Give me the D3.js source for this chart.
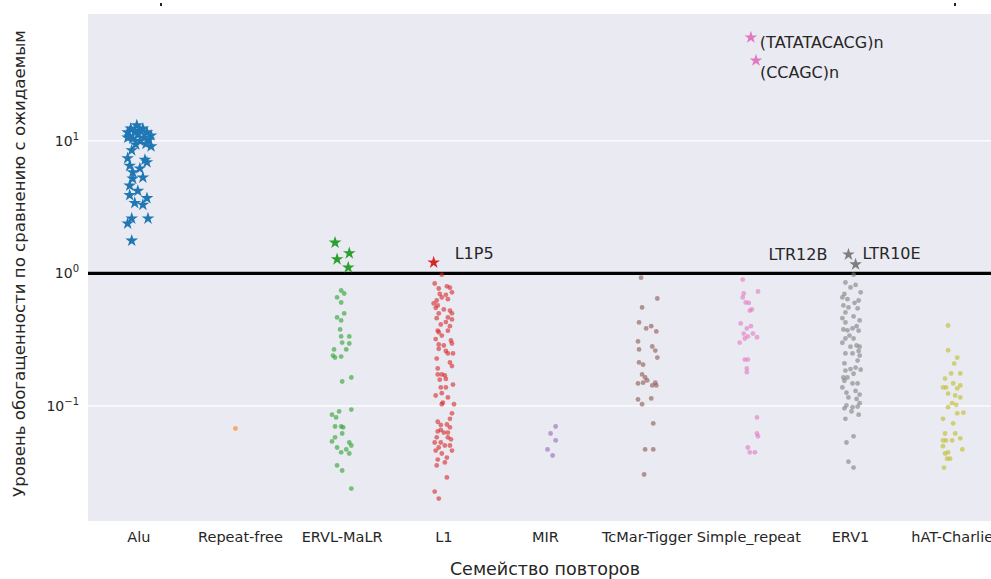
<!DOCTYPE html>
<html>
<head>
<meta charset="utf-8">
<script src="https://cdn.jsdelivr.net/npm/d3@7"></script>
<style>
	body { margin: 0; background: #fff; }
	svg { display: block; font-family: "DejaVu Sans", sans-serif; }
</style>
</head>
<body>
<svg id="chart" width="991" height="579"></svg>
<script>
// categories in plot order
const families = ["Alu", "Repeat-free", "ERVL-MaLR", "L1", "MIR", "TcMar-Tigger", "Simple_repeat", "ERV1", "hAT-Charlie"];
const palette = ["#1f77b4", "#ff7f0e", "#2ca02c", "#d62728", "#9467bd", "#8c564b", "#e377c2", "#7f7f7f", "#bcbd22"];
const yTicks = [0.1, 1, 10];

// each point: [enrichment, jitter within the category band]
const aluStars = [[13.1,-0.02],[12.4,-0.08],[12.4,0.04],[11.6,-0.11],[11.8,-0.04],[12.0,0.01],[11.6,0.08],[11.0,0.12],[10.8,-0.09],[11.2,-0.01],[10.6,0.05],[10.4,-0.06],[10.2,0.10],[10.0,0.01],[10.6,-0.11],[9.5,0.07],[9.4,-0.03],[9.1,0.12],
	[8.5,-0.07],[7.4,-0.11],[6.9,0.08],[7.2,0.06],[6.5,-0.09],[6.2,0.01],[5.8,-0.06],[5.3,0.04],[5.2,-0.06],[4.6,-0.09],[4.2,-0.01],[3.9,-0.09],[3.7,0.08],[3.4,-0.04],[3.3,0.04],[2.6,-0.07],[2.6,0.09],[2.38,-0.11],[1.77,-0.07]];
const repeatFree = [[0.0676,-0.05]];
const ervlStars = [[1.71,-0.07],[1.42,0.07],[1.28,-0.05],[1.11,0.06]];
const ervl = [[0.744,-0.01],[0.706,0.02],[0.659,-0.05],[0.604,-0.01],[0.499,0.02],[0.466,-0.05],[0.442,-0.01],[0.378,-0.02],[0.335,-0.01],[0.335,0.07],[0.301,0],[0.296,0.07],[0.267,-0.08],[0.267,0.04],[0.240,-0.09],[0.232,-0.07],[0.236,-0.01],[0.164,0.09],[0.153,0],
	[0.094,0.09],[0.091,-0.03],[0.086,-0.10],[0.082,-0.06],[0.070,-0.07],[0.070,-0.01],[0.069,0.01],[0.062,0],[0.058,-0.07],[0.054,-0.10],[0.053,0.07],[0.0503,0.09],[0.0486,-0.05],[0.047,0.04],[0.0447,-0.01],[0.0438,0.07],[0.0356,-0.05],[0.0326,0],[0.0238,0.09]];
const l1Stars = [[1.21,-0.10]];
const l1 = [[0.98,-0.02],[0.84,-0.09],[0.77,-0.05],[0.80,0.03],[0.78,0.06],[0.72,0.08],[0.69,0.02],[0.70,-0.04],[0.66,-0.02],[0.625,-0.07],[0.64,0.04],[0.594,-0.10],[0.574,-0.06],[0.55,-0.08],[0.535,0],[0.525,0.06],[0.499,-0.05],[0.50,0.08],[0.466,0.04],[0.46,-0.07],[0.45,0.08],[0.43,0.02],[0.412,-0.03],[0.40,0.06],
	[0.371,-0.06],[0.36,-0.05],[0.37,0.04],[0.34,-0.02],[0.32,-0.08],[0.312,0.07],[0.296,0.08],[0.291,-0.05],[0.286,0],[0.27,-0.05],[0.26,0.02],[0.249,0.04],[0.249,0.09],[0.228,-0.07],[0.213,0.06],[0.20,0.08],[0.192,-0.06],[0.173,-0.06],[0.173,-0.02],[0.17,0.01],[0.16,0.02],[0.158,-0.04],[0.145,0.09],[0.138,-0.03],[0.138,0.02],[0.125,-0.02],[0.12,-0.08],[0.116,0.04],
	[0.106,-0.01],[0.103,-0.02],[0.103,0.10],[0.088,0.08],[0.080,0.06],[0.076,-0.06],[0.0725,0.03],[0.072,-0.03],[0.069,0.06],[0.066,-0.03],[0.0643,-0.06],[0.063,0],[0.063,0.04],[0.058,-0.07],[0.058,0.04],[0.056,0.07],[0.053,-0.03],[0.053,-0.09],[0.0503,0.01],[0.0503,0.06],[0.0486,-0.05],[0.0461,-0.08],[0.0461,0.08],
	[0.0438,-0.02],[0.0408,0.03],[0.0394,-0.06],[0.0375,0.01],[0.0356,-0.07],[0.0289,0.03],[0.0226,-0.09],[0.020,-0.05]];
const mir = [[0.070,0.10],[0.062,0.05],[0.055,0.10],[0.047,0.02],[0.0423,0.07]];
const tcmar = [[0.93,-0.06],[0.647,0.10],[0.554,-0.05],[0.427,-0.08],[0.385,-0.01],[0.40,0.04],[0.365,0.09],[0.307,-0.09],[0.281,0.05],[0.267,-0.08],[0.262,0.08],[0.232,0.10],[0.213,-0.08],[0.205,-0.04],[0.173,-0.05],[0.164,-0.02],[0.156,0],[0.148,-0.09],[0.150,-0.04],[0.150,0.08],[0.143,0.05],[0.143,0.09],
	[0.112,-0.09],[0.103,-0.05],[0.114,0.04],[0.0738,0.06],[0.047,-0.02],[0.047,0.06],[0.0304,-0.03]];
const simpleStars = [[60.4,0.02],[40.5,0.07]];
const simple = [[0.90,-0.06],[0.731,0.09],[0.706,-0.05],[0.659,-0.06],[0.604,-0.03],[0.60,0],[0.535,0.03],[0.525,0.01],[0.42,-0.08],[0.40,0.02],[0.385,-0.02],[0.352,-0.05],[0.352,0.04],[0.335,-0.01],[0.33,0.08],[0.323,-0.04],[0.301,-0.09],[0.224,-0.04],[0.224,-0.01],[0.192,-0.02],[0.18,-0.02],
	[0.082,0.08],[0.062,0.08],[0.059,0.09],[0.0486,-0.01],[0.0447,0.01],[0.0447,0.06]];
const erv1Stars = [[1.39,-0.02],[1.17,0.05]];
const erv1 = [[0.98,0.03],[0.855,-0.05],[0.82,0.05],[0.784,0],[0.72,0.10],[0.70,-0.06],[0.659,-0.08],[0.64,-0.03],[0.625,0.08],[0.60,0.04],[0.574,-0.07],[0.554,-0.02],[0.545,0.07],[0.508,-0.05],[0.474,0.03],[0.46,-0.08],[0.442,0.09],[0.427,-0.05],[0.40,0.06],[0.378,-0.07],[0.372,-0.03],[0.385,0.02],[0.37,0.08],
	[0.34,-0.01],[0.323,-0.05],[0.323,0.03],[0.30,-0.08],[0.286,0.06],[0.28,0.09],[0.28,0],[0.26,0.08],[0.249,-0.05],[0.249,0.02],[0.24,0.09],[0.22,0.07],[0.21,-0.06],[0.195,0.05],[0.185,-0.05],[0.19,0],[0.188,0.10],[0.175,0.03],[0.164,-0.07],[0.164,-0.03],[0.155,-0.06],[0.148,0.02],[0.148,0.07],
	[0.138,-0.08],[0.126,-0.04],[0.13,0.05],[0.122,0.09],[0.116,-0.02],[0.113,0.06],[0.105,0.09],[0.101,-0.04],[0.098,0.02],[0.099,0.07],[0.096,-0.06],[0.091,0.01],[0.086,0.08],[0.080,-0.05],[0.059,0.03],[0.053,-0.04],[0.038,-0.02],[0.0343,0.03]];
const hat = [[0.405,-0.04],[0.263,-0.04],[0.232,0.05],[0.209,0.02],[0.161,-0.07],[0.176,-0.01],[0.176,0.08],[0.138,-0.09],[0.138,-0.06],[0.148,0.01],[0.143,0.08],[0.136,0.05],[0.124,-0.04],[0.12,0.03],[0.116,0.08],[0.105,0],[0.102,0.04],[0.098,-0.04],
	[0.089,0.11],[0.088,0.05],[0.080,-0.09],[0.074,0.01],[0.062,-0.07],[0.062,0.03],[0.055,-0.09],[0.055,-0.06],[0.055,0],[0.057,0.08],[0.0497,-0.09],[0.047,0.10],[0.0447,-0.04],[0.0438,-0.07],[0.040,-0.02],[0.040,-0.05],[0.0343,-0.08]];

// named outliers: [family, star index, label]
const starLabels = [["L1", 0, "L1P5"], ["ERV1", 0, "LTR12B"], ["ERV1", 1, "LTR10E"], ["Simple_repeat", 0, "(TATATACACG)n"], ["Simple_repeat", 1, "(CCAGC)n"]];

const circlesBy = {"Repeat-free": repeatFree, "ERVL-MaLR": ervl, "L1": l1, "MIR": mir, "TcMar-Tigger": tcmar, "Simple_repeat": simple, "ERV1": erv1, "hAT-Charlie": hat};
const starsBy = {"Alu": aluStars, "ERVL-MaLR": ervlStars, "L1": l1Stars, "Simple_repeat": simpleStars, "ERV1": erv1Stars};

// label placement relative to its star (dy to the baseline)
const labelNudge = {
	"L1P5": {dx: 21, dy: -3, anchor: "start"},
	"LTR12B": {dx: -21, dy: 5, anchor: "end"},
	"LTR10E": {dx: 7, dy: -5, anchor: "start"},
	"(TATATACACG)n": {dx: 9, dy: 11, anchor: "start"},
	"(CCAGC)n": {dx: 4, dy: 18, anchor: "start"}
};

const dims = {width: 991, height: 579, left: 88, right: 1003, top: 14, bottom: 521};

const svg = d3.select("#chart");
const color = d3.scaleOrdinal().domain(families).range(palette);

const x = d3.scaleBand()
	.domain(families)
	.range([dims.left, dims.right]);

const y = d3.scaleLog()
	.domain([0.01355, 90.8])
	.range([dims.bottom, dims.top]);

const px = (fam, j) => x(fam) + x.bandwidth() / 2 + j * x.bandwidth();

// plot background
svg.append("rect")
	.attr("x", dims.left)
	.attr("y", dims.top)
	.attr("width", dims.right - dims.left)
	.attr("height", dims.bottom - dims.top)
	.attr("fill", "#eaeaf2");

// scraps of a cropped title above the plot
svg.selectAll(".scrap")
	.data([161, 955])
	.enter()
	.append("rect")
	.attr("x", d => d - 1)
	.attr("y", 3)
	.attr("width", 2)
	.attr("height", 3)
	.attr("fill", "#222");

// grid
svg.append("g")
	.selectAll("line")
	.data(yTicks)
	.enter()
	.append("line")
	.attr("x1", dims.left)
	.attr("x2", dims.right)
	.attr("y1", d => y(d))
	.attr("y2", d => y(d))
	.attr("stroke", "#fff")
	.attr("stroke-width", 1.2);

// y tick labels as 10^n
const yLab = svg.append("g")
	.selectAll("text")
	.data(yTicks)
	.enter()
	.append("text")
	.attr("x", 79)
	.attr("y", d => y(d) + 5)
	.attr("text-anchor", "end")
	.attr("font-size", 14)
	.attr("fill", "#262626");
yLab.append("tspan").text("10");
yLab.append("tspan")
	.attr("font-size", 10)
	.attr("dy", -6)
	.text(d => {
		const e = Math.round(Math.log10(d));
		return e < 0 ? "\u2212" + (-e) : String(e);
	});

// x tick labels
svg.append("g")
	.selectAll("text")
	.data(families)
	.enter()
	.append("text")
	.attr("x", d => x(d) + x.bandwidth() / 2)
	.attr("y", 542)
	.attr("text-anchor", "middle")
	.attr("font-size", 14.5)
	.attr("fill", "#262626")
	.text(d => d);

// axis titles
svg.append("text")
	.attr("x", 545)
	.attr("y", 575)
	.attr("text-anchor", "middle")
	.attr("font-size", 17.5)
	.attr("fill", "#262626")
	.text("Семейство повторов");

svg.append("text")
	.attr("transform", "translate(25," + ((dims.top + dims.bottom) / 2 - 4) + ") rotate(-90)")
	.attr("text-anchor", "middle")
	.attr("font-size", 16.6)
	.attr("fill", "#262626")
	.text("Уровень обогащенности по сравнению с ожидаемым");

// reference line at 1
svg.append("line")
	.attr("x1", dims.left)
	.attr("x2", dims.right)
	.attr("y1", y(1))
	.attr("y2", y(1))
	.attr("stroke", "#000")
	.attr("stroke-width", 3.2);

// circles (below expectation)
const dots = svg.append("g");
Object.keys(circlesBy).forEach(fam => {
	dots.selectAll(null)
		.data(circlesBy[fam])
		.enter()
		.append("circle")
		.attr("cx", d => px(fam, d[1]))
		.attr("cy", d => y(d[0]))
		.attr("r", 2.4)
		.attr("fill", color(fam))
		.attr("fill-opacity", 0.6);
});

// stars (enriched)
const star = d3.symbol().type(d3.symbolStar).size(50);
const stars = svg.append("g");
Object.keys(starsBy).forEach(fam => {
	stars.selectAll(null)
		.data(starsBy[fam])
		.enter()
		.append("path")
		.attr("d", star)
		.attr("transform", d => "translate(" + px(fam, d[1]) + "," + y(d[0]) + ")")
		.attr("fill", color(fam));
});

// outlier labels
svg.append("g")
	.selectAll("text")
	.data(starLabels)
	.enter()
	.append("text")
	.each(function(d) {
		const p = starsBy[d[0]][d[1]];
		const n = labelNudge[d[2]];
		d3.select(this)
			.attr("x", px(d[0], p[1]) + n.dx)
			.attr("y", y(p[0]) + n.dy)
			.attr("text-anchor", n.anchor);
	})
	.attr("font-size", 16)
	.attr("fill", "#262626")
	.text(d => d[2]);
</script>
</body>
</html>
